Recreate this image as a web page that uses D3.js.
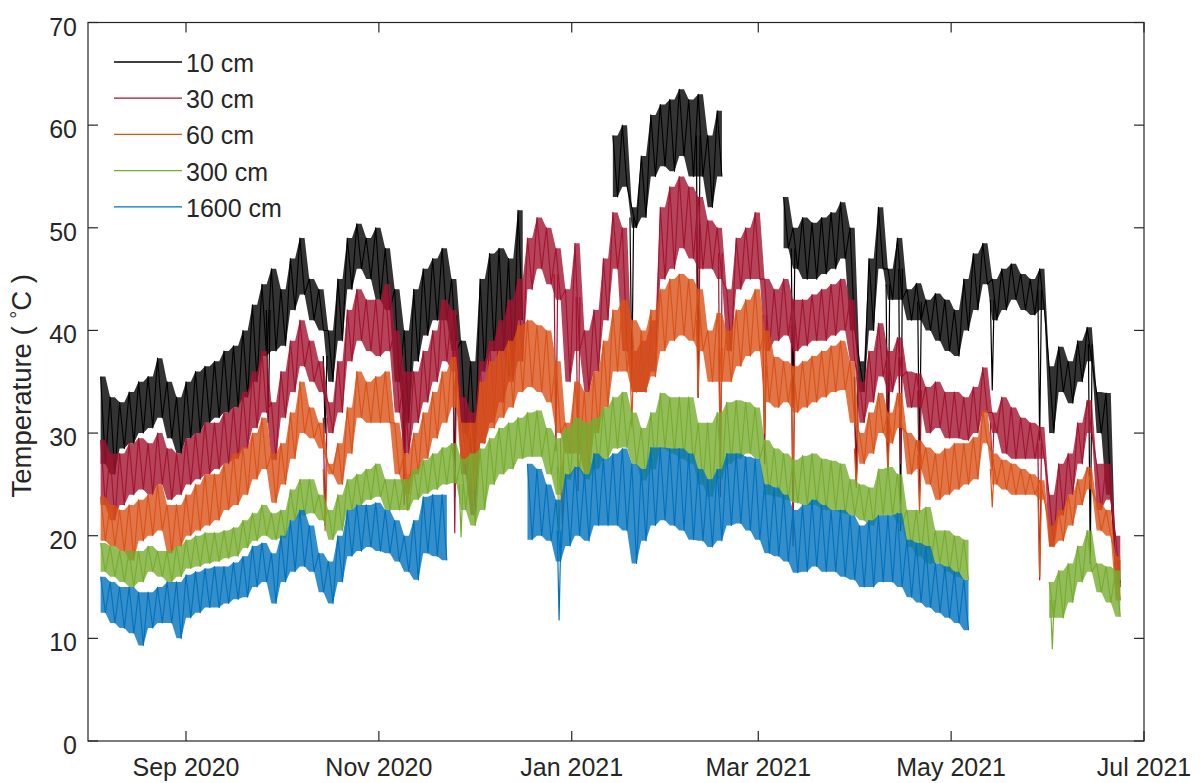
<!DOCTYPE html>
<html>
<head>
<meta charset="utf-8">
<script src="https://cdn.jsdelivr.net/npm/d3@7"></script>
<style>
  html, body { margin: 0; padding: 0; background: #ffffff; }
  svg { display: block; font-family: "Liberation Sans", Arial, Helvetica, sans-serif; }
</style>
</head>
<body>
<svg id="chart" width="1201" height="783"></svg>
<script>
// Soil temperature logger record: each depth is stored as the daily high / low
// envelope sampled every 3 days, starting 5 Aug 2020 (null = logger gap),
// plus the short cold excursions ("dips") that drop below that envelope.
const sampleStart = "2020-08-05";
const sampleStepDays = 3;

const depths = ["10 cm", "30 cm", "60 cm", "300 cm", "1600 cm"];
const colors = ["#000000", "#A2142F", "#D95319", "#77AC30", "#0072BD"];

const n9 = [null, null, null, null, null, null, null, null, null];
const n6 = [null, null, null, null, null, null];
const n8 = [null, null, null, null, null, null, null, null];
const n16 = n8.concat(n8);

const hi10 = [35.5,33.5,33,34,35,35.5,37.3,35,33.5,35,36,36.5,37,38,38.5,40,42.5,44.5,46,44,
  47,49,45,44,40,45,49,50.4,49,50,48,44,40,44,46,47,48,45,39,37,45,47.5,48,47,51.7]
  .concat(n9, [59,60,52,57,61,62,62.5,63.5,62.5,63,59,61.4], n6,
  [53,50,51,50.5,51,51.5,52.5,50,37,47,52,46,49,44,44.6,43,43.6,43,42,45,47.5,48.5,45,46,
   46.5,45.5,45,46,36.5,38.4,37,39,40.3,34,33.9,17.6]);
const lo10 = [27,26,28.5,29,30,30.5,31.5,29.5,28,29.5,30,31,31.5,32,32.5,33.5,35,37.5,38,38.5,
  42,43.5,41,40,35,39,44,46,45,43,42,35,31,37,39.5,41,41,38,30,28,36,38,38,35.5,41]
  .concat(n9, [53,54,50,51,55,56,55.5,57,55,55,52,55], n6,
  [48,46,45,45,45.5,46,47,40,34,40,46,43,43,41,41,40,39,38,37.5,40,42,44.5,41,42,
   43,42,41.5,42,30,34,32.9,35,37,30,24,15.4]);
const dips10 = [["2020-09-27",31],["2020-10-15",30],["2020-11-09",28],["2020-11-25",23.8],
  ["2021-01-20",35.4],["2021-02-10",33.5],["2021-03-12",32.5],["2021-04-01",25.1],["2021-04-11",26.4],
  ["2021-04-15",20.5],["2021-04-21",26.7],["2021-05-14",34.2],["2021-05-29",29.3],["2021-06-14",17.3]];

const hi30 = [29.3,28,28,29,29.5,29,30,28.5,28,29.5,30,31,31,32,32.5,34,36,38,33,36,
  39,41,39,37,33,37,42,44,43,43,44.5,40,36,36,38,40,43,42,33.5,32,37,39,41,43,45,49,51,50,48,44,
  48.5,40,42,47,51.5,50,38,39,41,52,54,55,54,53,50.7,50,44,49,50,51.5,45,44,45,43,43,43.5,44,44.5,45,43,
  35,38,40.7,38,39.3,36,35.8,34.5,35,34,34,33.5,34.5,36.4,32,33.5,32.5,31.5,31,30.6,
  24,27,28,31,33.2,27,27,20];
const lo30 = [23,21.5,23,24,24.5,24,25,23.5,24,25,25.5,26,26.5,27,27.5,28.5,30.5,32,27.4,31.5,
  34,36.5,35,34,30,32,37,39,38,37.5,38,32,28,31,33,35,37,36,26,22,29,31,33,35,37,44,46,44.5,43,35,
  38,34,36,41,46,38,34,34,36,45,46,48,47,46,46,45,38,44,45,45,38,39,39.5,38,38.5,39,39,39.5,40,37,
  31,33,35.5,34,35.5,32.5,32.5,30,30.5,29.5,29.5,29.3,30,32,30,28,27.5,27.5,27.5,27.5,
  19,22,24,27,30,22.5,23.5,15];
const dips30 = [["2020-10-15",21],["2020-11-09",23],["2020-11-25",20.3],["2020-12-27",28.3],["2021-01-03",24.4],
  ["2021-02-10",33.5],["2021-02-17",23.8],["2021-03-03",27],["2021-03-12",19],["2021-04-01",25.4],
  ["2021-04-11",27],["2021-04-15",27],["2021-04-21",23.8],["2021-05-14",26.4],["2021-05-29",15.7]];

const hi60 = [23.8,23,22.5,23,23.5,24,25,23,23,24,25,26,26,27,28,28.6,30,31.5,28,29,
  32,35,32.5,31,27,29,32.5,36,35,35.5,36,31,28,30,32,34,36,37.4,31,31,35,37,38,39,40.5,41,40.5,40,37,31,
  35,34,36,39,42,43,41,40,42,44,45,45.5,45,44,40,41.7,40,42,43,44,40,37.4,37,36.5,37,37.5,38,38.5,39,37,
  30,32,33.9,32,33.9,30,29.3,28.6,28,28.5,29,29,29.6,32.2,28,27.4,27,26.5,26,25.4,
  21,22.5,24,25.5,26.7,23.2,22.5,18];
const lo60 = [19.5,19,18.5,17.6,19.5,20,20.5,18.3,19,20,20.5,21,21.5,22.5,23,24,25.5,26.5,23.2,25,
  27.5,30,29.5,28.5,26,25,28,31.5,31,31,31,26,24,26,27.5,29.5,31,32.5,27,24.5,29,30.5,31.5,32.5,34,34.5,34,33,30,28,
  28,26,30,32.5,36,36,34,34,35.5,38,39,39.5,39,38,35,35,35,36.5,37.5,38,33,32.5,33,32,32.5,33,33.5,34,34.2,31,
  27,28,30,29,30.5,26,26.5,25,23.5,24,24.5,25,25.5,29,25,24.5,24,24,24,23.5,
  18.9,19.5,21,23,24.5,20.5,20,13.7];
const dips60 = [["2020-10-15",20.5],["2020-11-10",22.5],["2020-12-29",21.2],["2021-01-20",30.6],["2021-02-10",33.5],
  ["2021-02-17",28],["2021-03-03",30],["2021-03-12",25.4],["2021-04-01",24.7],["2021-04-11",26.1],
  ["2021-04-21",22.2],["2021-05-14",22.8],["2021-05-29",16]];

const hi300 = [19.3,19,18.5,18.5,18.5,19,18.5,18.5,19,19.6,20,20.3,20.3,20.5,20.8,21.5,22.2,23,22.2,22.5,
  24.5,25.5,25.5,24,22.5,24,25.5,26,26.5,27,25.5,25.5,25.5,26.5,27.4,28,28.6,29,27.5,28,28.5,29.5,30.5,31,31.5,32,32.2,30.5,29.5,30.5,
  31.5,31,31.5,32.5,33.5,34,32,30.5,32,33.9,33.5,33.5,33.5,31,31,32,33,33.2,33,32.5,29.3,28.5,28,27.4,27.8,28,27.5,27.3,27,25.5,
  25,24.7,26.5,26.7,26,22.5,22.5,22.8,20.5,20.5,20,19.6]
  .concat(n8, [15.5,16.6,17.3,19,20.5,17.3,17,16.6]);
const lo300 = [16.5,16,15.5,15,15.5,16.5,16,15.5,16,16.8,17,17.3,17.5,17.8,18,18.8,19.5,20,19.6,19.8,
  21.5,22,22.2,21.5,19.6,20.5,22.5,23,23.5,23.8,22.5,22.5,22.5,23.5,24.1,24.5,25,25.1,22.5,21,22.5,25,26,26.5,27.5,27.7,27.7,26,24,25.5,
  26.5,25.5,26.5,27.5,28.5,28.6,27,25.4,26.5,28.5,28,27.5,27,25,23.8,25.5,27,27.5,28,27.5,24,23.8,23.5,23.2,23,23,22.5,22.5,22.2,22,
  21.5,21,22,22,21.2,18.9,18,17.3,17.3,16.5,16,15.7]
  .concat(n8, [12,12,13.5,15.5,16.5,14.5,13.5,12.1]);
const dips300 = [["2020-11-27",19.9],["2020-12-28",20.3],["2021-06-02",9]];

const hi1600 = [16,15.5,15,15,14.5,14.5,15,15.5,15.5,16.2,16.5,16.8,17,17,17.4,18,19,19.3,18.3,20,
  21.5,22.5,21,18.3,17.5,20,22.5,23,23,23.2,22.5,21.5,20,21.5,23.8,24,24]
  .concat(n8, [27,26.5,25,23.5,26,26.7,26,28,27.5,28,28.5,27,26.5,28.6,28.6,28.5,28.5,28,26.5,25.5,
  26.5,28,28,27.7,27.5,25,24.7,24,22.5,23,23.5,23,22.5,22.5,22,21,21.5,22,22,22.2,19.6,19.3,19,17.3,17,16.5,15.7],
  n16);
const lo1600 = [12.5,11.5,11,10.5,9.3,11,11.5,11.5,10,12,12.5,13,13,13.4,13.8,14,15,15.5,13.4,15.5,
  16.5,17,16.5,14.5,13.4,15.5,18,18.5,18.9,18.5,18.3,17.5,16.5,15.7,18.3,18,17.6]
  .concat(n8, [19.6,20,19.5,17.5,19,20,19.5,21,21,21,20.5,17.3,19.5,21,21.5,21,20.5,19.6,19.5,18.9,
  19.5,21,21.2,20.5,19.6,18.3,18,17.5,16.4,16.5,17,16.5,16.5,16,15.7,15,15,15.5,15.5,15,14,13.5,13,12.5,12,11.5,10.8],
  n16);
const dips1600 = [["2020-12-28",11.8]];

const highs = [hi10, hi30, hi60, hi300, hi1600];
const lows = [lo10, lo30, lo60, lo300, lo1600];
const dips = [dips10, dips30, dips60, dips300, dips1600];

const yTicks = [0, 10, 20, 30, 40, 50, 60, 70];
const xTickDates = ["2020-09-01", "2020-11-01", "2021-01-01", "2021-03-01", "2021-05-01", "2021-07-01"];

// ---------------------------------------------------------------------------
const parse = d3.utcParse("%Y-%m-%d");
const t0 = parse(sampleStart);
const sampleDates = d3.range(hi10.length).map(i => d3.utcDay.offset(t0, i * sampleStepDays));

const svg = d3.select("#chart");
const W = 1201, H = 783;
const plot = { left: 88, right: 1144, top: 22.5, bottom: 741 };
const axisColor = "#262626";
const tickFont = 25;

svg.append("rect").attr("width", W).attr("height", H).attr("fill", "#ffffff");

const x = d3.scaleUtc()
  .domain([parse("2020-08-01"), parse("2021-07-01")])
  .range([plot.left, plot.right]);
const y = d3.scaleLinear().domain([0, 70]).range([plot.bottom, plot.top]);

const series = depths.map((name, k) => {
  const pts = [];
  sampleDates.forEach((d, i) => {
    const h = highs[k][i], l = lows[k][i];
    if (h == null || l == null) { pts.push(null); return; }
    pts.push({ t: d, v: h, lo: l, hi: h });
    pts.push({ t: d3.utcHour.offset(d, 36), v: l, lo: l, hi: h });
  });
  return { name, color: colors[k], pts, k };
});

const gData = svg.append("g");

const band = d3.area()
  .defined(p => p != null)
  .x(p => x(p.t))
  .y0(p => y(p.lo))
  .y1(p => y(p.hi));

const zigzag = d3.line()
  .defined(p => p != null)
  .x(p => x(p.t))
  .y(p => y(p.v));

const bisect = d3.bisector(d => d).center;

series.forEach(s => {
  const g = gData.append("g");
  g.append("path")
    .attr("d", band(s.pts))
    .attr("fill", s.color)
    .attr("fill-opacity", 0.8)
    .attr("stroke", "none");
  g.append("path")
    .attr("d", zigzag(s.pts))
    .attr("fill", "none")
    .attr("stroke", s.color)
    .attr("stroke-width", 1.1)
    .attr("stroke-linejoin", "round");
  // short cold excursions: a narrow spike from the envelope down to the dip value
  dips[s.k].forEach(([ds, v]) => {
    const t = parse(ds);
    const i = bisect(sampleDates, t);
    const top = highs[s.k][i] != null ? (highs[s.k][i] + lows[s.k][i]) / 2 : v;
    const spike = [
      [d3.utcHour.offset(t, -14), top],
      [t, v],
      [d3.utcHour.offset(t, 14), top]
    ];
    g.append("path")
      .attr("d", d3.line().x(p => x(p[0])).y(p => y(p[1]))(spike))
      .attr("fill", "none")
      .attr("stroke", s.color)
      .attr("stroke-width", 1.2)
      .attr("stroke-linejoin", "round");
  });
});

// axes box with inward ticks on all four sides
const tickLen = 10;
const xTicks = xTickDates.map(parse);

const gAxes = svg.append("g").attr("stroke", axisColor).attr("stroke-width", 1.2).attr("fill", "none");
gAxes.append("rect")
  .attr("x", plot.left).attr("y", plot.top)
  .attr("width", plot.right - plot.left).attr("height", plot.bottom - plot.top);

xTicks.forEach(t => {
  const xx = x(t);
  gAxes.append("line").attr("x1", xx).attr("x2", xx).attr("y1", plot.bottom).attr("y2", plot.bottom - tickLen);
  gAxes.append("line").attr("x1", xx).attr("x2", xx).attr("y1", plot.top).attr("y2", plot.top + tickLen);
});
yTicks.forEach(v => {
  const yy = y(v);
  gAxes.append("line").attr("x1", plot.left).attr("x2", plot.left + tickLen).attr("y1", yy).attr("y2", yy);
  gAxes.append("line").attr("x1", plot.right).attr("x2", plot.right - tickLen).attr("y1", yy).attr("y2", yy);
});

const fmt = d3.utcFormat("%b %Y");
svg.append("g").selectAll("text").data(xTicks).join("text")
  .attr("x", d => x(d)).attr("y", 776)
  .attr("text-anchor", "middle")
  .attr("font-size", tickFont).attr("fill", axisColor)
  .text(d => fmt(d));

svg.append("g").selectAll("text").data(yTicks).join("text")
  .attr("x", 77).attr("y", d => y(d) + 13)
  .attr("text-anchor", "end")
  .attr("font-size", tickFont).attr("fill", axisColor)
  .text(d => d);

// y-axis title
const yTitle = svg.append("text")
  .attr("transform", `translate(31, ${(plot.top + plot.bottom) / 2 + 4}) rotate(-90)`)
  .attr("text-anchor", "middle")
  .attr("font-size", 27.5).attr("fill", axisColor);
yTitle.append("tspan").text("Temperature ( ");
yTitle.append("tspan").attr("font-size", 20).attr("dy", -6).text("\u00B0");
yTitle.append("tspan").attr("dy", 6).text("C )");

// legend
const legend = svg.append("g");
depths.forEach((name, k) => {
  const ly = 62 + k * 36.2;
  legend.append("line")
    .attr("x1", 114).attr("x2", 182).attr("y1", ly).attr("y2", ly)
    .attr("stroke", colors[k]).attr("stroke-width", 1.3);
  legend.append("text")
    .attr("x", 186).attr("y", ly + 10)
    .attr("font-size", tickFont).attr("fill", axisColor)
    .text(name);
});
</script>
</body>
</html>
